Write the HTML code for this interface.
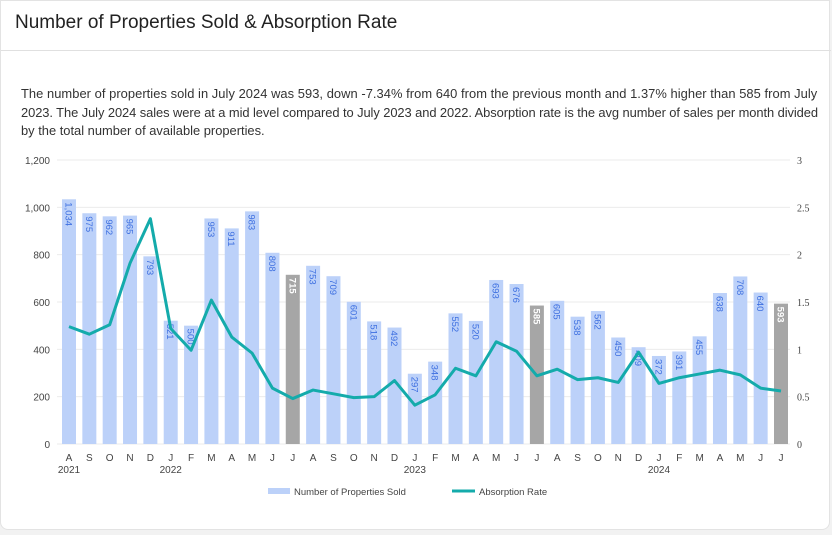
<!DOCTYPE html>
<html><head><meta charset="utf-8"><style>
body{margin:0;background:#f2f2f2;font-family:"Liberation Sans",sans-serif;}
#card{position:absolute;left:0;top:0;width:830px;height:530px;background:#fff;border:1px solid #e3e3e3;border-radius:0 0 8px 8px;box-sizing:border-box;}
#title{position:absolute;left:14px;top:11px;font-size:19px;color:#222;}
#hr{position:absolute;left:0;top:49px;width:830px;height:1px;background:#e0e0e0;}
#desc{position:absolute;left:20px;top:84px;width:812px;font-size:12.9px;line-height:18.5px;color:#333;white-space:nowrap;}
#desc span{display:block;}
svg{position:absolute;left:0;top:0;}
</style></head><body>
<div id="card">
<div id="title">Number of Properties Sold &amp; Absorption Rate</div>
<div id="hr"></div>
<div id="desc"><span style="letter-spacing:0.05px">The number of properties sold in July 2024 was 593, down -7.34% from 640 from the previous month and 1.37% higher than 585 from July</span><span style="letter-spacing:-0.07px">2023. The July 2024 sales were at a mid level compared to July 2023 and 2022. Absorption rate is the avg number of sales per month divided</span><span>by the total number of available properties.</span></div>
</div>
<svg id="chart" width="832" height="535"></svg>
<script>
const months=["A","S","O","N","D","J","F","M","A","M","J","J","A","S","O","N","D","J","F","M","A","M","J","J","A","S","O","N","D","J","F","M","A","M","J","J"];
const sold=[1034,975,962,965,793,521,500,953,911,983,808,715,753,709,601,518,492,297,348,552,520,693,676,585,605,538,562,450,409,372,391,455,638,708,640,593];
const absorption=[1.24,1.16,1.26,1.91,2.38,1.22,0.99,1.52,1.13,0.96,0.59,0.48,0.57,0.53,0.49,0.50,0.67,0.41,0.52,0.80,0.72,1.08,0.98,0.72,0.79,0.68,0.70,0.65,0.97,0.64,0.70,0.74,0.78,0.73,0.59,0.56];
const highlight=[11,23,35];
const years=[[0,"2021"],[5,"2022"],[17,"2023"],[29,"2024"]];
const leftTicks=[0,200,400,600,800,1000,1200];
const rightTicks=[0,0.5,1,1.5,2,2.5,3];
const NS="http://www.w3.org/2000/svg",svg=document.getElementById('chart');
const x0=69,step=(781-69)/35,yb=444,yt=160;
const xs=i=>x0+i*step, yL=v=>yb-(v/1200)*(yb-yt), yR=v=>yb-(v/3)*(yb-yt);
const fmt=v=>String(v).replace(/\B(?=(\d{3})+(?!\d))/g,',');
function mk(t,a,p){const e=document.createElementNS(NS,t);for(const k in a)e.setAttribute(k,a[k]);(p||svg).appendChild(e);return e;}
leftTicks.forEach(v=>{
 const g=mk('line',{x1:57,x2:790,y1:yL(v),y2:yL(v),stroke:'#ebebeb'});
 
 const t=mk('text',{x:50,y:yL(v)+4,'text-anchor':'end','font-size':10,fill:'#444'});t.textContent=fmt(v);
 
});
rightTicks.forEach(v=>{
 const t=mk('text',{x:797,y:yR(v)+4,'font-size':10,fill:'#444','font-family':'Liberation Serif,serif'});t.textContent=v;
 
});
sold.forEach((v,i)=>{
 const hl=highlight.includes(i);
 const r=mk('rect',{x:xs(i)-7,y:yL(v),width:14,height:yb-yL(v),fill:hl?'#a6a6a6':'#bcd1f9'});
 
 const t=mk('text',{transform:`translate(${xs(i)-3.5},${yL(v)+3}) rotate(90)`,'font-size':9.5,fill:hl?'#fff':'#3d6fe0','font-weight':hl?'bold':'normal'});
 t.textContent=fmt(v);
 
 const m=mk('text',{x:xs(i),y:461,'text-anchor':'middle','font-size':10,fill:'#444'});m.textContent=months[i];
 
});
years.forEach(([i,y])=>{const t=mk('text',{x:xs(i),y:473,'text-anchor':'middle','font-size':10,fill:'#444'});t.textContent=y;
 });
const pl=mk('polyline',{points:absorption.map((v,i)=>xs(i)+','+yR(v)).join(' '),fill:'none',stroke:'#14abab','stroke-width':3,'stroke-linejoin':'round'});

const l1=mk('rect',{x:268,y:488,width:22,height:6,fill:'#bcd1f9'});

const lt1=mk('text',{x:294,y:495,'font-size':9.5,fill:'#444'});lt1.textContent='Number of Properties Sold';

const l2=mk('line',{x1:452,x2:475,y1:491,y2:491,stroke:'#14abab','stroke-width':3});

const lt2=mk('text',{x:479,y:495,'font-size':9.5,fill:'#444'});lt2.textContent='Absorption Rate';

</script>
</body></html>
